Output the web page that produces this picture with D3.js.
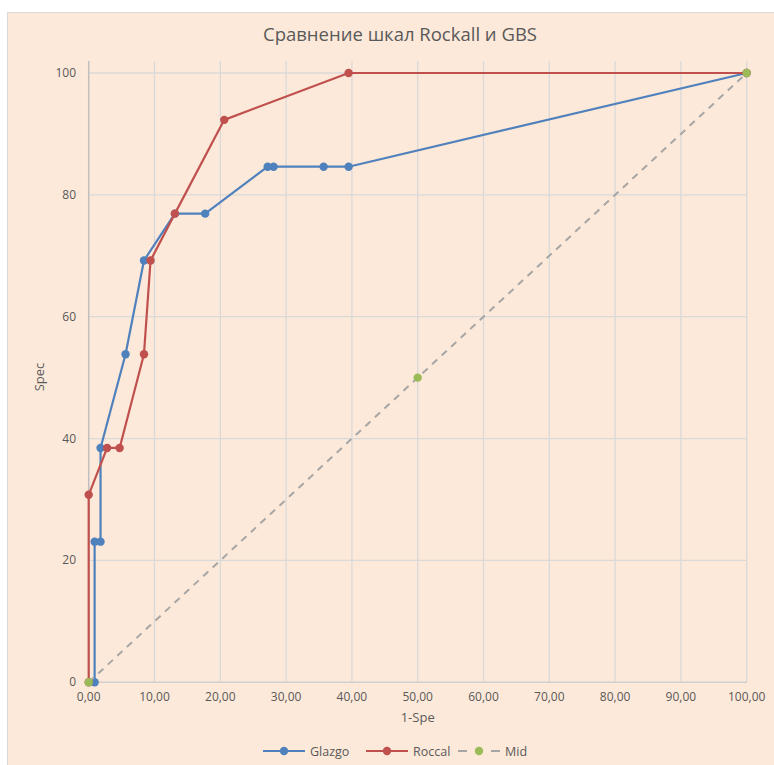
<!DOCTYPE html>
<html>
<head>
<meta charset="utf-8">
<script src="https://cdn.jsdelivr.net/npm/d3@7"></script>
<style>
  html, body { margin: 0; padding: 0; background: #ffffff; }
  svg { display: block; }
</style>
</head>
<body>
<div id="chart"></div>
<script>
// ROC points (x = 1-Spe, y = Spec)
const glazgoX = [0.9, 0.9, 1.8, 1.8, 5.6, 8.4, 13.1, 17.7, 27.2, 28.1, 35.7, 39.5, 100]
const glazgoY = [0, 23.08, 23.08, 38.46, 53.85, 69.23, 76.92, 76.92, 84.62, 84.62, 84.62, 84.62, 100]
const roccalX = [0, 0, 2.8, 4.7, 8.4, 9.4, 13.1, 20.6, 39.5, 100]
const roccalY = [0, 30.77, 38.46, 38.46, 53.85, 69.23, 76.92, 92.31, 100, 100]
const midX = [0, 50, 100]
const midY = [0, 50, 100]
const xTicks = [0, 10, 20, 30, 40, 50, 60, 70, 80, 90, 100]
const yTicks = [0, 20, 40, 60, 80, 100]

const width = 774, height = 765
const font = "'Open Sans', sans-serif"
const textColor = "#595959"

const svg = d3.select("#chart").append("svg")
    .attr("width", width)
    .attr("height", height)

// chart area background
svg.append("rect")
    .attr("x", 7.5).attr("y", 12.5)
    .attr("width", width).attr("height", height)
    .attr("fill", "#fde9d9")
    .attr("stroke", "#d9d9d9")

const x = d3.scaleLinear().domain([0, 100]).range([88.7, 746.7])
const y = d3.scaleLinear().domain([0, 100]).range([682.3, 73])
const plotTop = 61

// gridlines
svg.append("g").selectAll("line.v")
    .data(xTicks.slice(1))
    .join("line")
    .attr("x1", d => x(d)).attr("x2", d => x(d))
    .attr("y1", y(0)).attr("y2", plotTop)
    .attr("stroke", "#d9d9d9").attr("stroke-width", 1.3)

svg.append("g").selectAll("line.h")
    .data(yTicks.slice(1))
    .join("line")
    .attr("x1", x(0)).attr("x2", x(100))
    .attr("y1", d => y(d)).attr("y2", d => y(d))
    .attr("stroke", "#d9d9d9").attr("stroke-width", 1.3)

// axes lines
svg.append("line")
    .attr("x1", x(0)).attr("x2", x(0))
    .attr("y1", y(0)).attr("y2", plotTop)
    .attr("stroke", "#bfbfbf").attr("stroke-width", 1.5)
svg.append("line")
    .attr("x1", x(0)).attr("x2", x(100))
    .attr("y1", y(0)).attr("y2", y(0))
    .attr("stroke", "#d0d0d0").attr("stroke-width", 1.5)

// tick labels
const fmt = d => d3.format(".2f")(d).replace(".", ",")
svg.append("g").selectAll("text")
    .data(xTicks)
    .join("text")
    .attr("x", d => x(d))
    .attr("y", y(0) + 19)
    .attr("text-anchor", "middle")
    .attr("font-family", font).attr("font-size", "12px")
    .attr("fill", textColor)
    .text(fmt)

svg.append("g").selectAll("text")
    .data(yTicks)
    .join("text")
    .attr("x", 76)
    .attr("y", d => y(d) + 4)
    .attr("text-anchor", "end")
    .attr("font-family", font).attr("font-size", "12px")
    .attr("fill", textColor)
    .text(d => d)

// titles
svg.append("text")
    .attr("x", 400).attr("y", 41)
    .attr("text-anchor", "middle")
    .attr("font-family", font).attr("font-size", "18.5px")
    .attr("fill", textColor)
    .text("Сравнение шкал Rockall и GBS")

svg.append("text")
    .attr("x", (x(0) + x(100)) / 2).attr("y", 722)
    .attr("text-anchor", "middle")
    .attr("font-family", font).attr("font-size", "13px")
    .attr("fill", textColor)
    .text("1-Spe")

svg.append("text")
    .attr("transform", "translate(44,377) rotate(-90)")
    .attr("text-anchor", "middle")
    .attr("font-family", font).attr("font-size", "13px")
    .attr("fill", textColor)
    .text("Spec")

// series
const series = [
    {name: "Glazgo", xs: glazgoX, ys: glazgoY, color: "#4f81bd", line: "#4f81bd", dash: null, w: 2.2},
    {name: "Roccal", xs: roccalX, ys: roccalY, color: "#c0504d", line: "#c0504d", dash: null, w: 2.2},
    {name: "Mid", xs: midX, ys: midY, color: "#9bbb59", line: "#a6a6a6", dash: "7,6", w: 2}
]

const line = d3.line().x(d => x(d[0])).y(d => y(d[1]))

series.forEach(s => {
    const pts = s.xs.map((v, i) => [v, s.ys[i]])
    const g = svg.append("g")
    g.append("path")
        .datum(pts)
        .attr("d", line)
        .attr("fill", "none")
        .attr("stroke", s.line)
        .attr("stroke-width", s.w)
        .attr("stroke-dasharray", s.dash)
        .attr("stroke-linejoin", "round")
    g.selectAll("circle")
        .data(pts)
        .join("circle")
        .attr("cx", d => x(d[0]))
        .attr("cy", d => y(d[1]))
        .attr("r", 4.2)
        .attr("fill", s.color)
})

// legend
const legendX = [263, 366, 458]
const legendY = 751
series.forEach((s, i) => {
    const g = svg.append("g").attr("transform", `translate(${legendX[i]},${legendY})`)
    if (s.dash) {
        g.append("line").attr("x1", 0).attr("x2", 9).attr("y1", 0).attr("y2", 0)
            .attr("stroke", s.line).attr("stroke-width", 2)
        g.append("line").attr("x1", 33).attr("x2", 42).attr("y1", 0).attr("y2", 0)
            .attr("stroke", s.line).attr("stroke-width", 2)
    } else {
        g.append("line").attr("x1", 0).attr("x2", 42).attr("y1", 0).attr("y2", 0)
            .attr("stroke", s.line).attr("stroke-width", 2.2)
    }
    g.append("circle").attr("cx", 21).attr("cy", 0).attr("r", 4.2).attr("fill", s.color)
    g.append("text")
        .attr("x", 47).attr("y", 4.5)
        .attr("font-family", font).attr("font-size", "12.5px")
        .attr("fill", textColor)
        .text(s.name)
})
</script>
</body>
</html>
